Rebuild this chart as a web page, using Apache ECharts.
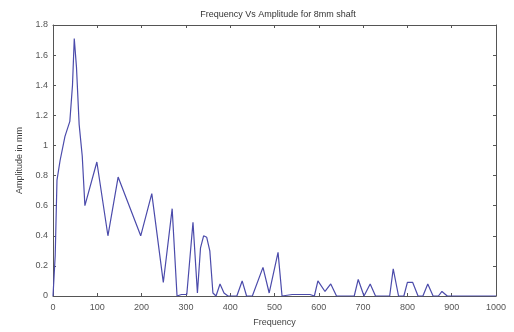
<!DOCTYPE html>
<html><head><meta charset="utf-8">
<script src="https://cdn.jsdelivr.net/npm/echarts@6/dist/echarts.min.js"></script>
<style>html,body{margin:0;padding:0;background:#fff}#c{width:514px;height:332px}</style>
</head><body><div id="c"></div>
<script>
var freq = [0, 5, 9, 16, 27, 38, 44, 48, 53, 59, 66, 72, 99, 124, 147, 198, 223, 249, 269, 280, 290, 302, 316, 326, 333, 340, 347, 354, 361, 368, 377, 386, 395, 415, 427, 437, 450, 474, 488, 508, 517, 540, 580, 590, 598, 614, 627, 640, 670, 680, 689, 702, 716, 728, 750, 760, 768, 780, 792, 800, 812, 824, 835, 846, 858, 870, 878, 890, 950, 1000];
var amp  = [0, 0.27, 0.77, 0.9, 1.06, 1.16, 1.4, 1.71, 1.52, 1.14, 0.93, 0.6, 0.89, 0.4, 0.79, 0.4, 0.68, 0.09, 0.58, 0.0, 0.01, 0.01, 0.49, 0.02, 0.32, 0.4, 0.39, 0.3, 0.02, 0.0, 0.08, 0.02, 0.0, 0.0, 0.1, 0.0, 0.0, 0.19, 0.02, 0.29, 0.0, 0.01, 0.01, 0.0, 0.1, 0.03, 0.08, 0.0, 0.0, 0.0, 0.11, 0.0, 0.08, 0.0, 0.0, 0.0, 0.18, 0.0, 0.0, 0.09, 0.09, 0.0, 0.0, 0.08, 0.0, 0.0, 0.03, 0.0, 0.0, 0.0];
var xTicks = [0,100,200,300,400,500,600,700,800,900,1000];
var yTicks = [0,0.2,0.4,0.6,0.8,1,1.2,1.4,1.6,1.8];
var titleText = 'Frequency Vs Amplitude for 8mm shaft';
var xName = 'Frequency';
var yName = 'Amplitude in mm';

var data = freq.map(function(f,i){return [f, amp[i]];});
var font = 'Liberation Sans';
var axisCol = '#555';
var lbl = {color:'#555', fontSize:9, fontFamily:font};
function baseX(pos, showLbl){
  return {type:'value', position:pos, min:0, max:1000, interval:100,
    axisLine:{show:true, onZero:false, lineStyle:{color:axisCol,width:1}},
    axisTick:{show:true, inside:true, length:3, lineStyle:{color:axisCol}},
    axisLabel:Object.assign({show:showLbl, margin:7, formatter:function(v){return String(v);}}, lbl),
    splitLine:{show:false}};
}
function baseY(pos, showLbl){
  return {type:'value', position:pos, min:0, max:1.8, interval:0.2,
    axisLine:{show:true, onZero:false, lineStyle:{color:axisCol,width:1}},
    axisTick:{show:true, inside:true, length:3, lineStyle:{color:axisCol}},
    axisLabel:Object.assign({show:showLbl, margin:5, formatter:function(v){return String(+v.toFixed(1));}}, lbl),
    splitLine:{show:false}};
}
var xa = baseX('bottom', true);
xa.name = xName; xa.nameLocation='middle'; xa.nameGap=22;
xa.nameTextStyle = {color:'#444', fontSize:9, fontFamily:font};
var ya = baseY('left', true);
ya.name = yName; ya.nameLocation='middle'; ya.nameGap=29;
ya.nameTextStyle = {color:'#444', fontSize:9, fontFamily:font};
var xt = baseX('top', false);
var yr = baseY('right', false);

var chart = echarts.init(document.getElementById('c'), null, {renderer:'canvas'});
chart.setOption({
  animation:false,
  backgroundColor:'#fff',
  title:{text:titleText, left:273, textAlign:'center', top:5,
    textStyle:{color:'#333', fontSize:9, fontWeight:'normal', fontFamily:font}},
  grid:{left:53, right:18, top:25, bottom:33},
  xAxis:[xa, xt],
  yAxis:[ya, yr],
  series:[{type:'line', data:data, xAxisIndex:0, yAxisIndex:0, symbol:'none',
    lineStyle:{color:'#4b4bab', width:1.2}}]
});
</script></body></html>
